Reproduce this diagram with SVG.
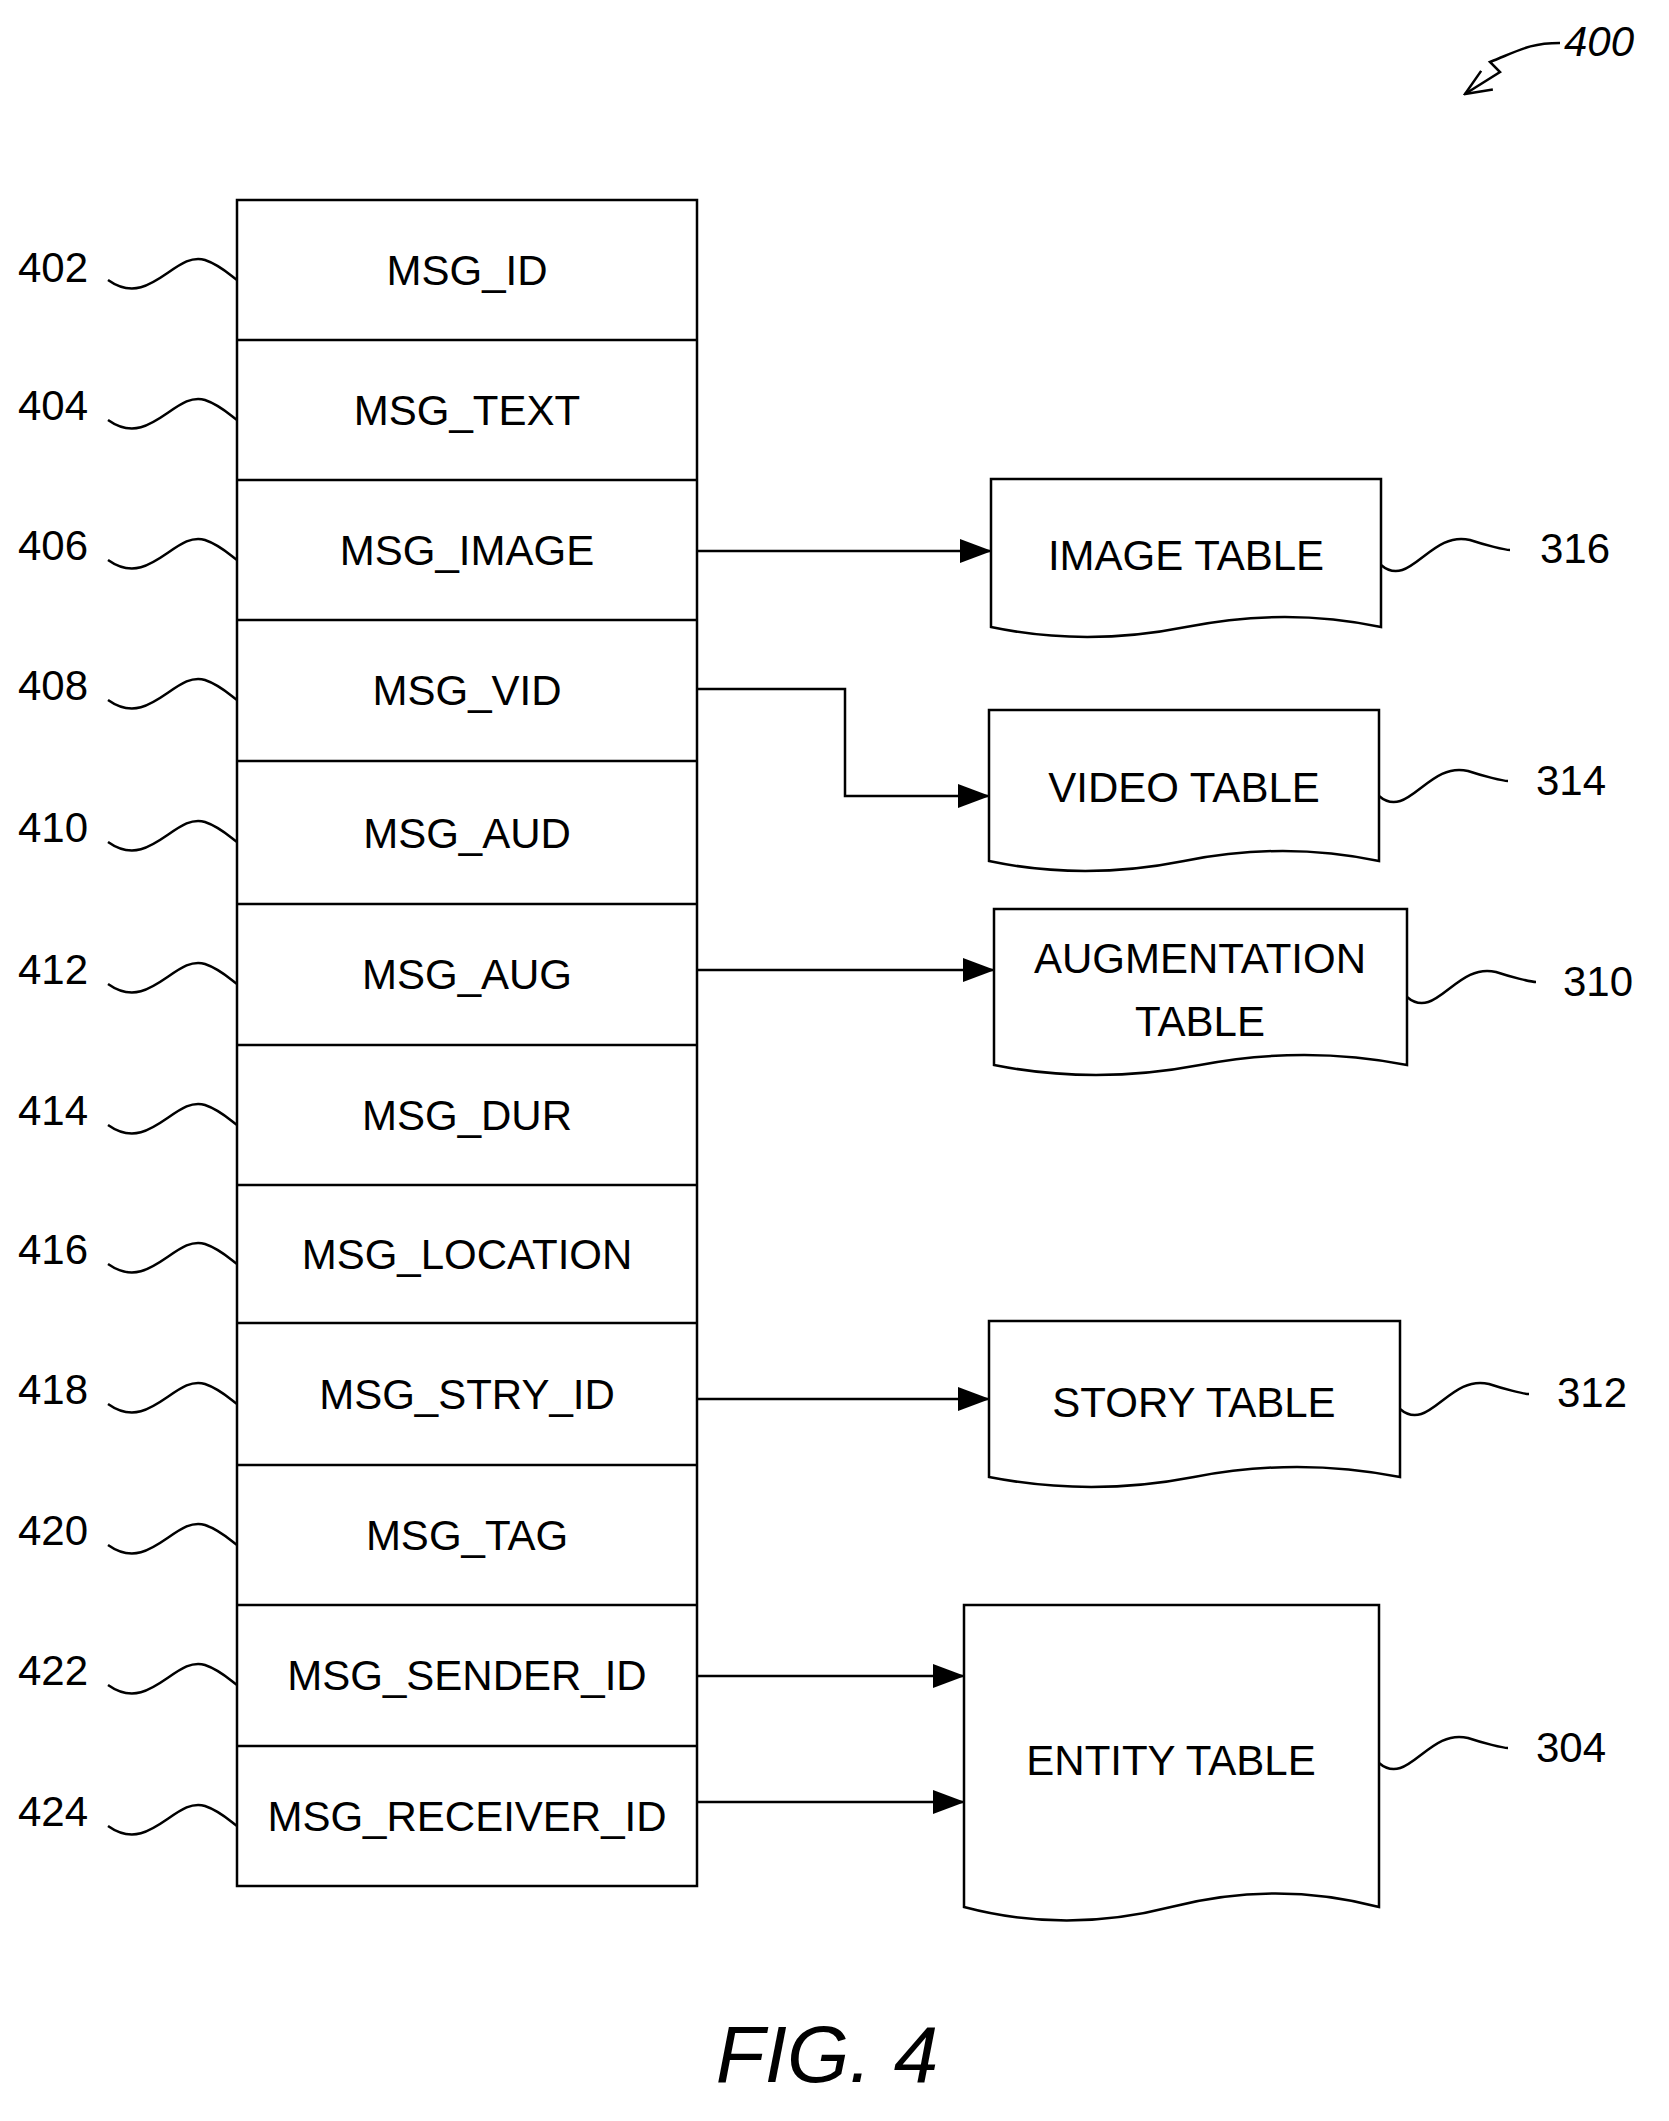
<svg xmlns="http://www.w3.org/2000/svg" width="1669" height="2121" viewBox="0 0 1669 2121">
<style>
text{font-family:"Liberation Sans",Arial,sans-serif;font-size:42px;fill:#000}
.c{text-anchor:middle}
.b{fill:#fff;stroke:#000;stroke-width:2.5}
.l{fill:none;stroke:#000;stroke-width:2.5}
</style>
<defs>
<marker id="a" markerWidth="32" markerHeight="24" refX="31" refY="12" orient="auto" markerUnits="userSpaceOnUse" viewBox="0 0 32 24"><path d="M0,0L32,12L0,24z" fill="#000"/></marker>
<marker id="o" markerWidth="30" markerHeight="30" refX="28" refY="15" orient="auto" markerUnits="userSpaceOnUse" viewBox="0 0 30 30"><path d="M2,4L28,15L2,26" fill="none" stroke="#000" stroke-width="2.5"/></marker>
</defs>
<g id="ref400"><text x="1564" y="56" font-style="italic">400</text><path class="l" d="M1560,43 C1530,43 1520,50 1490,62 L1500,72 L1465,94" marker-end="url(#o)"/></g>
<g id="record">
<rect class="b" x="237" y="200" width="460" height="1686"/>
<path class="l" d="M237,340H697M237,480H697M237,620H697M237,761H697M237,904H697M237,1045H697M237,1185H697M237,1323H697M237,1465H697M237,1605H697M237,1746H697"/>
</g>
<g id="f402"><text class="c" x="467" y="285">MSG_ID</text></g>
<g id="f404"><text class="c" x="467" y="425">MSG_TEXT</text></g>
<g id="f406"><text class="c" x="467" y="565">MSG_IMAGE</text></g>
<g id="f408"><text class="c" x="467" y="705">MSG_VID</text></g>
<g id="f410"><text class="c" x="467" y="848">MSG_AUD</text></g>
<g id="f412"><text class="c" x="467" y="989">MSG_AUG</text></g>
<g id="f414"><text class="c" x="467" y="1130">MSG_DUR</text></g>
<g id="f416"><text class="c" x="467" y="1269">MSG_LOCATION</text></g>
<g id="f418"><text class="c" x="467" y="1409">MSG_STRY_ID</text></g>
<g id="f420"><text class="c" x="467" y="1550">MSG_TAG</text></g>
<g id="f422"><text class="c" x="467" y="1690">MSG_SENDER_ID</text></g>
<g id="f424"><text class="c" x="467" y="1831">MSG_RECEIVER_ID</text></g>
<g id="leftlabels">
<text x="18" y="282">402</text><path class="l" d="M108,280 C150,310 175,250 205,260 C220,265 230,275 237,280"/>
<text x="18" y="420">404</text><path class="l" d="M108,420 C150,450 175,390 205,400 C220,405 230,415 237,420"/>
<text x="18" y="560">406</text><path class="l" d="M108,560 C150,590 175,530 205,540 C220,545 230,555 237,560"/>
<text x="18" y="700">408</text><path class="l" d="M108,700 C150,730 175,670 205,680 C220,685 230,695 237,700"/>
<text x="18" y="842">410</text><path class="l" d="M108,842 C150,872 175,812 205,822 C220,827 230,837 237,842"/>
<text x="18" y="984">412</text><path class="l" d="M108,984 C150,1014 175,954 205,964 C220,969 230,979 237,984"/>
<text x="18" y="1125">414</text><path class="l" d="M108,1125 C150,1155 175,1095 205,1105 C220,1110 230,1120 237,1125"/>
<text x="18" y="1264">416</text><path class="l" d="M108,1264 C150,1294 175,1234 205,1244 C220,1249 230,1259 237,1264"/>
<text x="18" y="1404">418</text><path class="l" d="M108,1404 C150,1434 175,1374 205,1384 C220,1389 230,1399 237,1404"/>
<text x="18" y="1545">420</text><path class="l" d="M108,1545 C150,1575 175,1515 205,1525 C220,1530 230,1540 237,1545"/>
<text x="18" y="1685">422</text><path class="l" d="M108,1685 C150,1715 175,1655 205,1665 C220,1670 230,1680 237,1685"/>
<text x="18" y="1826">424</text><path class="l" d="M108,1826 C150,1856 175,1796 205,1806 C220,1811 230,1821 237,1826"/>
</g>
<g id="connectors" class="l">
<path d="M697,551H991" marker-end="url(#a)"/>
<path d="M697,689H845V796H989" marker-end="url(#a)"/>
<path d="M697,970H994" marker-end="url(#a)"/>
<path d="M697,1399H989" marker-end="url(#a)"/>
<path d="M697,1676H964" marker-end="url(#a)"/>
<path d="M697,1802H964" marker-end="url(#a)"/>
</g>
<g id="image-table"><path class="b" d="M991,479H1381V627Q1286,607 1186,627T991,627Z"/><text class="c" x="1186" y="570">IMAGE TABLE</text>
<path class="l" d="M1381,565 C1410,590 1430,530 1470,540 C1485,545 1505,550 1510,550"/><text x="1540" y="563">316</text></g>
<g id="video-table"><path class="b" d="M989,710H1379V861Q1284,841 1184,861T989,861Z"/><text class="c" x="1184" y="802">VIDEO TABLE</text>
<path class="l" d="M1379,796 C1408,821 1428,761 1468,771 C1483,776 1503,781 1508,781"/><text x="1536" y="795">314</text></g>
<g id="augmentation-table"><path class="b" d="M994,909H1407V1065Q1305,1045 1200,1065T994,1065Z"/><text class="c" x="1200" y="973">AUGMENTATION</text><text class="c" x="1200" y="1036">TABLE</text>
<path class="l" d="M1407,997 C1436,1022 1456,962 1496,972 C1511,977 1531,982 1536,982"/><text x="1563" y="996">310</text></g>
<g id="story-table"><path class="b" d="M989,1321H1400V1477Q1297,1457 1194,1477T989,1477Z"/><text class="c" x="1194" y="1417">STORY TABLE</text>
<path class="l" d="M1400,1409 C1429,1434 1449,1374 1489,1384 C1504,1389 1524,1394 1529,1394"/><text x="1557" y="1407">312</text></g>
<g id="entity-table"><path class="b" d="M964,1605H1379V1907Q1276,1880 1171,1907T964,1907Z"/><text class="c" x="1171" y="1775">ENTITY TABLE</text>
<path class="l" d="M1379,1763 C1408,1788 1428,1728 1468,1738 C1483,1743 1503,1748 1508,1748"/><text x="1536" y="1762">304</text></g>
<text class="c" x="827" y="2082" style="font-size:80px;font-style:italic">FIG. 4</text>
</svg>
